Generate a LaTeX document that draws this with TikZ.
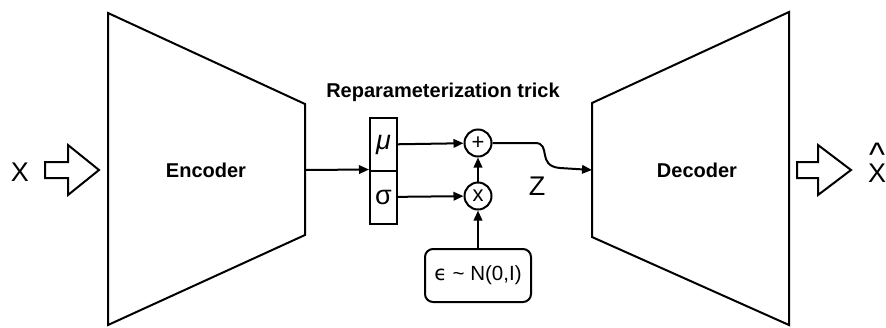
\documentclass[tikz,border=0pt]{standalone}
\usepackage{fontspec}
\setmainfont{Liberation Sans}
\newfontfamily\djv{DejaVu Sans}
\newcommand\tightls{\lineskiplimit-100pt\relax}
\usetikzlibrary{arrows.meta}
\begin{document}
\begin{tikzpicture}[x=1pt,y=-1pt,
  line width=2pt,
  arr/.style={-{Triangle[length=10pt,width=8.5pt]}},
  lbl/.style={font=\fontsize{20}{22}\selectfont\bfseries, inner sep=0pt},
  big/.style={font=\fontsize{27}{28}\selectfont, inner sep=0pt},
  halfbox/.style={draw, minimum width=27pt, minimum height=53pt, inner sep=0pt, font=\fontsize{27}{28}\selectfont},
  op/.style={draw, circle, minimum size=27pt, inner sep=0pt, font=\fontsize{22}{22}\selectfont},
]
\useasboundingbox (0,0) rectangle (886,327);
% encoder / decoder trapezoids
\draw (108,13) -- (305,104) -- (305,235) -- (108,325) -- cycle;
\draw (592,103) -- (789,12) -- (789,325) -- (592,237) -- cycle;
\node[lbl] (enc) at (206,170) {Encoder};
\node[lbl] (dec) at (697,170) {Decoder};
\coordinate (encR) at (305,170);
\coordinate (decL) at (592,170);
% input / output block arrows
\draw (45,162) -- (68,162) -- (68,145) -- (99,170) -- (68,195) -- (68,178) -- (45,178) -- cycle;
\draw (797,162) -- (818,162) -- (818,145) -- (851,170) -- (818,195) -- (818,178) -- (797,178) -- cycle;
\node[big] (x) at (20,172) {X};
\node[inner sep=0pt, align=center, font=\fontsize{27}{16}\selectfont\tightls] (xh) at (877,163) {{\fontsize{34}{34}\selectfont\textasciicircum}\\X};
% title
\node[lbl] (title) at (443,92) {Reparameterization trick};
% mu / sigma
\node[halfbox] (mu) at (383.5,144.5) {\itshape μ};
\node[halfbox] (sigma) at (383.5,197) {σ};
\draw[arr] (encR) -- (sigma.north west);
% operators
\node[op] (plus) at (478,143) {+};
\node[op] (times) at (478,196) {x};
\node[draw, rounded corners=8pt, minimum width=106pt, minimum height=53pt, inner sep=0pt, font=\fontsize{20.5}{22}\selectfont] (eps) at (478,275.5) {{\djv ϵ} \textasciitilde\ N(0,I)};
\draw[arr] (mu) -- (plus);
\draw[arr] (sigma) -- (times);
\draw[arr] (eps) -- (times);
\draw[arr] (times) -- (plus);
\draw[arr] (plus.east) -- (535,143) .. controls (552,143) and (536,166) .. (560,168) -- (decL);
\node[big] (z) at (537,186) {Z};
\end{tikzpicture}
\end{document}
